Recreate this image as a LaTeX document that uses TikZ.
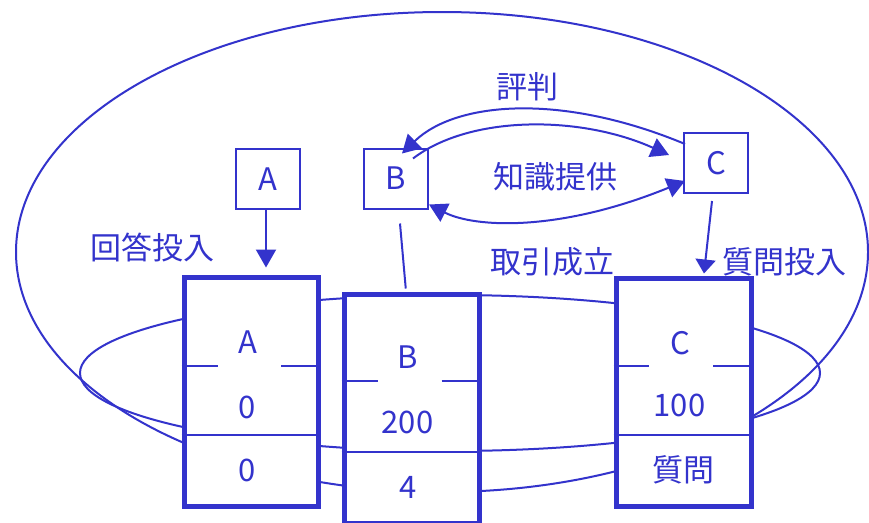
\documentclass[tikz,border=0pt]{standalone}
\usepackage{fontspec}
\setmainfont{Noto Sans CJK JP}
\usetikzlibrary{arrows.meta,calc}
\definecolor{ink}{RGB}{51,51,204}
\begin{document}
\begin{tikzpicture}[x=1pt,y=-1pt,
  every node/.style={text=ink, inner sep=0pt, font=\fontsize{31}{37}\selectfont},
  thinline/.style={draw=ink, line width=2pt},
  tip/.style={Triangle[length=18pt,width=20pt]},
  arr/.style={thinline, -{Triangle[length=18pt,width=20pt]}},
  smallbox/.style={draw=ink, line width=2pt, minimum width=64pt, minimum height=60pt},
  bigbox/.style={draw=ink, line width=5pt, fill=white, minimum width=135pt, minimum height=229pt},
  rowline/.style={draw=ink, line width=2pt}]
\clip (0,0) rectangle (869,522);
\useasboundingbox (0,0) rectangle (869,522);
\fill[white] (0,0) rectangle (869,522);
% loops behind the boxes
\draw[thinline] (442,252) ellipse [x radius=426pt, y radius=240pt];
\draw[thinline] (450,373) ellipse [x radius=370pt, y radius=78pt];
% big boxes
\node[bigbox, minimum width=134pt] (bigA) at (251,392) {};
\node[bigbox, minimum width=135.5pt] (bigB) at (411.75,408.5) {};
\node[bigbox, minimum width=135.7pt, minimum height=228pt] (bigC) at (684,392) {};
% row lines
\draw[rowline] (bigA.west |- 0,435) -- (bigA.east |- 0,435);
\draw[rowline] (bigA.west |- 0,365.7) -- (217.5,365.7);
\draw[rowline] (281,365.7) -- (bigA.east |- 0,365.7);
\draw[rowline] (bigB.west |- 0,451.7) -- (bigB.east |- 0,451.7);
\draw[rowline] (bigB.west |- 0,381) -- (377.7,381);
\draw[rowline] (441.7,381) -- (bigB.east |- 0,381);
\draw[rowline] (bigC.west |- 0,435) -- (bigC.east |- 0,435);
\draw[rowline] (bigC.west |- 0,365.7) -- (649.3,365.7);
\draw[rowline] (713.3,365.7) -- (bigC.east |- 0,365.7);
% texts in big boxes
\node (tA) at (248,342) {A};
\node (vA) at (247,407) {0};
\node (nA) at (247,470) {0};
\node (tB) at (408,357) {B};
\node (vB) at (407.5,422) {200};
\node (nB) at (408,487) {4};
\node (tC) at (680,343) {C};
\node (vC) at (679.5,405) {100};
\node (nC) at (683,470) {質問};
% small boxes
\node[smallbox] (sA) at (268,179) {A};
\node[smallbox] (sB) at (396,178.5) {B};
\node[smallbox] (sC) at (716,163) {C};
% labels
\node (l1) at (152,247) {回答投入};
\node (l2) at (527,87) {評判};
\node (l3) at (555,177) {知識提供};
\node (l4) at (552,262) {取引成立};
\node (l5) at (784,262) {質問投入};
% connectors
\draw[arr] ($(sA.south)+(-2,0)$) -- ($(sA.south |- bigA.north)+(-2,-7.5)$);
\draw[thinline] ($(sB.south)+(4,14)$) -- ($(bigB.north)+(-6,-3)$);
\draw[thinline, -{Triangle[length=14pt,width=20pt]}] ($(sC.south)+(-4,7)$) -- ($(bigC.north)+(20,-2)$);
\draw[arr] ($(sC.north west)+(2,12)$) .. controls (560,92) and (455,102) .. ($(sB.north west)+(39,6)$);
\draw[arr] ($(sB.north east)+(-16,11)$) .. controls (470,115) and (580,115) .. ($(sC.west)+(-14,-8)$);
\draw[thinline, {Triangle[length=18pt,width=20pt]}-{Triangle[length=18pt,width=20pt]}] ($(sB.south east)+(0,-5)$) .. controls (475,228) and (560,232) .. ($(sC.south west)+(2,-13)$);
\end{tikzpicture}
\end{document}
